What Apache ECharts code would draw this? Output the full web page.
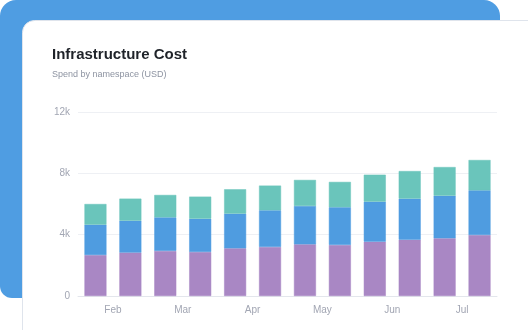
<!DOCTYPE html>
<html>
<head>
    <meta charset="utf-8">
    <title>Infrastructure Cost</title>
    <script src="https://cdn.jsdelivr.net/npm/echarts@6/dist/echarts.min.js"></script>
    <style>
        html, body { margin: 0; padding: 0; background: #ffffff; }
        #chart { width: 528px; height: 330px; }
    </style>
</head>
<body>
<div id="chart"></div>
<script>
    // semi-monthly periods, month labels sit between periods
    var periods = ['Jan 16', 'Feb 1', 'Feb 16', 'Mar 1', 'Mar 16', 'Apr 1', 'Apr 16', 'May 1', 'May 16', 'Jun 1', 'Jun 16', 'Jul 1'];
    var monthLabels = ['Feb', 'Mar', 'Apr', 'May', 'Jun', 'Jul'];
    var yTicks = [0, 4000, 8000, 12000];

    var computeCost = [2670, 2830, 2940, 2870, 3110, 3200, 3370, 3330, 3540, 3670, 3760, 3980];
    var storageCost = [1980, 2080, 2190, 2170, 2260, 2390, 2500, 2460, 2610, 2680, 2780, 2910];
    var networkCost = [1350, 1440, 1460, 1440, 1590, 1610, 1700, 1650, 1760, 1800, 1870, 1980];

    var font = '"Liberation Sans", Arial, sans-serif';
    var chart = echarts.init(document.getElementById('chart'), null, { renderer: 'canvas' });

    function barSeries(name, data, color) {
        return {
            name: name,
            type: 'bar',
            stack: 'cost',
            barWidth: 22,
            data: data,
            itemStyle: {
                color: color,
                borderColor: color,
                borderWidth: 0.5
            }
        };
    }

    var option = {
        animation: false,
        backgroundColor: '#ffffff',
        graphic: [
            {
                type: 'rect', z: -10, silent: true,
                shape: { x: 0, y: 0, width: 500, height: 298, r: [16, 16, 12, 12] },
                style: { fill: '#4f9de2' }
            },
            {
                type: 'rect', z: -9, silent: true,
                shape: { x: 22.5, y: 20.5, width: 540, height: 340, r: 12 },
                style: { fill: '#ffffff', stroke: '#dfe4ec', lineWidth: 1 }
            },
            {
                type: 'text', left: 52, top: 47,
                style: { text: 'Infrastructure Cost', fill: '#1f2329', font: 'bold 15px ' + font }
            },
            {
                type: 'text', left: 52, top: 70,
                style: { text: 'Spend by namespace (USD)', fill: '#8d93a1', font: '9px ' + font }
            }
        ],
        grid: { left: 78, right: 31, top: 112, bottom: 34 },
        xAxis: [
            {
                type: 'category',
                data: periods,
                axisLine: { lineStyle: { color: '#e3e6ec' } },
                axisTick: { show: false },
                axisLabel: { show: false }
            },
            {
                type: 'category',
                data: monthLabels,
                position: 'bottom',
                axisLine: { show: false },
                axisTick: { show: false },
                axisLabel: { color: '#a2a6b3', fontSize: 10, fontFamily: font, margin: 9 }
            }
        ],
        yAxis: {
            type: 'value',
            min: yTicks[0],
            max: yTicks[yTicks.length - 1],
            interval: yTicks[1] - yTicks[0],
            axisLine: { show: false },
            axisTick: { show: false },
            splitLine: { lineStyle: { color: '#eef0f4' } },
            axisLabel: {
                color: '#a2a6b3', fontSize: 10, fontFamily: font, margin: 8,
                formatter: function (v) { return v === 0 ? '0' : (v / 1000) + 'k'; }
            }
        },
        series: [
            barSeries('compute', computeCost, '#a987c4'),
            barSeries('storage', storageCost, '#4f9ce0'),
            barSeries('network', networkCost, '#6ac5bb')
        ]
    };
    chart.setOption(option);
</script>
</body>
</html>
